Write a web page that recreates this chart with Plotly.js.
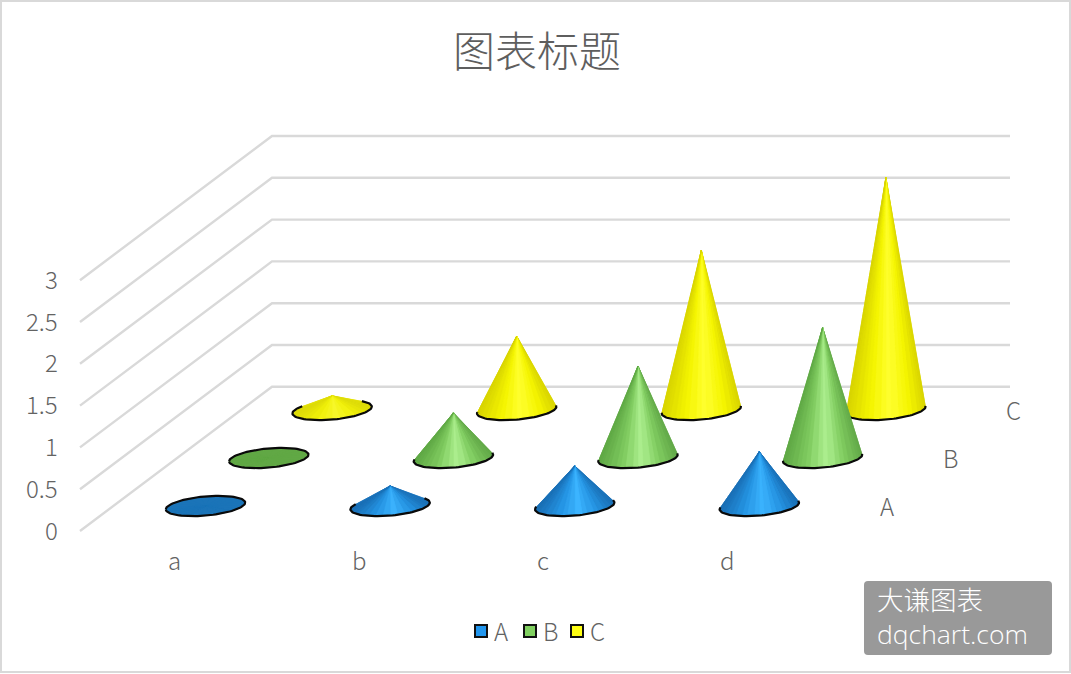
<!DOCTYPE html>
<html><head><meta charset="utf-8">
<script src="https://cdn.plot.ly/plotly-3.0.1.min.js"></script>
<style>html,body{margin:0;padding:0;background:#fff}#c{width:1071px;height:674px}</style>
</head><body><div id="c"></div>
<script>
const categories = ['a','b','c','d'];
const seriesNames = ['A','B','C'];
const valuesA = [0, 0.24, 0.48, 0.65];
const valuesB = [0, 0.54, 1.10, 1.56];
const valuesC = [0.17, 0.885, 1.91, 2.78];
const valueTicks = [0, 0.5, 1, 1.5, 2, 2.5, 3];
const tickLabels = ['0','0.5','1','1.5','2','2.5','3'];

const seriesValues = [valuesA, valuesB, valuesC];
const FONT = '"Noto Sans CJK SC","Noto Sans",sans-serif';
const TXT = '#636363';
const P = {x0:205.5, y0:506, dxCat:184.6, dxSer:63.3, dySer:-48, unit:83.6, rx:39.7, tilt:3.4, ry:9.6};
const px = (c,s) => P.x0 + P.dxCat*c + P.dxSer*s;
const py = (s,v) => P.y0 + P.dySer*s - P.unit*v;

const shades = [
  {flat:'#1b74b8', stops:[[0,'#1a6fb5'],[.28,'#2493e2'],[.55,'#3cb4ff'],[.8,'#2492e0'],[1,'#1a6fb5']], legend:'#2196ee'},
  {flat:'#61a845', stops:[[0,'#5fa845'],[.3,'#80cc60'],[.55,'#aef090'],[.78,'#80cc60'],[1,'#62a848']], legend:'#80d060'},
  {flat:'#e6e61a', stops:[[0,'#d8d400'],[.3,'#f5f500'],[.55,'#ffff30'],[.8,'#f5f500'],[1,'#d8d400']], legend:'#ffff14'}
];
function hex(h){return [1,3,5].map(i=>parseInt(h.substr(i,2),16));}
function mix(a,b,k){const A=hex(a),B=hex(b);return 'rgb('+A.map((v,i)=>Math.round(v+(B[i]-v)*k)).join(',')+')';}
function toHex(c){return '#'+c.map(v=>Math.round(v).toString(16).padStart(2,'0')).join('');}
function shadeAt(stops,t){
  t=Math.max(0,Math.min(1,t));
  for(let i=1;i<stops.length;i++){ if(t<=stops[i][0]){
    const a=stops[i-1],b=stops[i],f=(t-a[0])/(b[0]-a[0]),A=hex(a[1]),B=hex(b[1]);
    return toHex(A.map((v,j)=>v+(B[j]-v)*f)); } }
  return stops[stops.length-1][1];
}
function hull(pts){
  const p=pts.slice().sort((a,b)=>a[0]-b[0]||a[1]-b[1]);
  const cr=(o,a,b)=>(a[0]-o[0])*(b[1]-o[1])-(a[1]-o[1])*(b[0]-o[0]);
  const lo=[],up=[];
  for(const q of p){while(lo.length>1&&cr(lo[lo.length-2],lo[lo.length-1],q)<=0)lo.pop();lo.push(q);}
  for(const q of p.slice().reverse()){while(up.length>1&&cr(up[up.length-2],up[up.length-1],q)<=0)up.pop();up.push(q);}
  return lo.slice(0,-1).concat(up.slice(0,-1));
}
const traces=[];
const line=(xs,ys)=>traces.push({type:'scatter',mode:'lines',x:xs,y:ys,line:{color:'#d9d9d9',width:2.4},hoverinfo:'skip',showlegend:false});
valueTicks.forEach(v=>{
  const yb=386.8-P.unit*v, yf=531-P.unit*v;
  line([80,272,1010],[yf,yb,yb]);
});
for(let s=2;s>=0;s--){
  categories.forEach((cat,c)=>{
    const v=seriesValues[s][c], cx=px(c,s), cy=py(s,0), ay=py(s,v);
    const pts=[];
    for(let i=0;i<96;i++){const t=i/96*2*Math.PI;
      pts.push([cx+P.rx*Math.cos(t), cy-P.tilt*Math.cos(t)+P.ry*Math.sin(t)]);}
    const apex=[cx,ay];
    let h=hull(pts.concat([apex]));
    const ai=h.indexOf(apex);
    let rim;
    if(ai>=0){h=h.slice(ai).concat(h.slice(0,ai));rim=h.slice(1);}
    else{rim=h.concat([h[0]]);}
    const k=Math.min(1,v/0.25), sh=shades[s];
    traces.push({type:'scatter',mode:'none',x:h.map(p=>p[0]).concat(h[0][0]),y:h.map(p=>p[1]).concat(h[0][1]),
      fill:'toself',fillcolor:sh.stops[2][1],
      fillgradient:{type:'horizontal',colorscale:sh.stops.map(st=>[st[0],mix(sh.flat,st[1],k)])},
      name:seriesNames[s]+' '+cat,hoverinfo:'skip',showlegend:false});
    const n=rim.length-1, fans=22;
    for(let f=0;f<fans;f++){
      const i0=Math.round(f*n/fans), i1=Math.round((f+1)*n/fans);
      const arc=rim.slice(i0,i1+1);
      const t=((arc[0][0]+arc[arc.length-1][0])/2-(cx-P.rx))/(2*P.rx);
      const col=mix(sh.flat,shadeAt(sh.stops,t),k);
      traces.push({type:'scatter',mode:'lines',x:[apex[0]].concat(arc.map(p=>p[0]),apex[0]),y:[apex[1]].concat(arc.map(p=>p[1]),apex[1]),
        fill:'toself',fillcolor:col,line:{color:col,width:0.5},hoverinfo:'skip',showlegend:false});
    }
    traces.push({type:'scatter',mode:'lines',x:rim.map(p=>p[0]),y:rim.map(p=>p[1]),
      line:{color:'#0a0a0a',width:2.2},hoverinfo:'skip',showlegend:false});
  });
}
const legendX=[481,530,577];
traces.push({type:'scatter',mode:'markers',x:legendX,y:[631,631,631],
  marker:{symbol:'square',size:12,color:shades.map(s=>s.legend),line:{color:'#111',width:2}},hoverinfo:'skip',showlegend:false});

const ann=[];
const label=(x,y,text,size,anchor,color)=>ann.push({x,y,xref:'x',yref:'y',text,showarrow:false,xanchor:anchor||'center',yanchor:'middle',align:'left',
  font:{family:FONT,size:size,color:color||TXT,weight:300}});
valueTicks.forEach((v,i)=>label(60,529-P.unit*v,tickLabels[i],24,'right'));
categories.forEach((c,i)=>label(px(i,0)-31.5,559,c,24));
seriesNames.forEach((n,s)=>label(px(3,s)+128,py(s,0)-0.5,n,24));
seriesNames.forEach((n,i)=>label(legendX[i]+20,630.5,n,24));
label(875,615,'大谦图表<br><span style="font-family:Open Sans">dqchart.com</span>',26.5,'left','#fff');

const layout={
  width:1071,height:674,margin:{l:0,r:0,t:0,b:0},paper_bgcolor:'#fff',plot_bgcolor:'#fff',showlegend:false,
  title:{text:'图表标题',x:537/1071,xanchor:'center',y:1-52/674,yanchor:'middle',font:{family:FONT,size:42,color:'#5e5e5e',weight:300}},
  xaxis:{range:[0,1071],visible:false,fixedrange:true},
  yaxis:{range:[674,0],visible:false,fixedrange:true},
  annotations:ann,
  shapes:[
    {type:'rect',xref:'x',yref:'y',x0:1,y0:1,x1:1070,y1:672,line:{color:'#d9d9d9',width:2},fillcolor:'rgba(0,0,0,0)',layer:'below'},
    {type:'path',xref:'x',yref:'y',path:'M868 581 H1048 Q1052 581 1052 585 V651 Q1052 655 1048 655 H868 Q864 655 864 651 V585 Q864 581 868 581 Z',fillcolor:'#999999',line:{width:0},layer:'above'}
  ]
};
Plotly.newPlot('c',traces,layout,{displayModeBar:false,staticPlot:true});
</script></body></html>
